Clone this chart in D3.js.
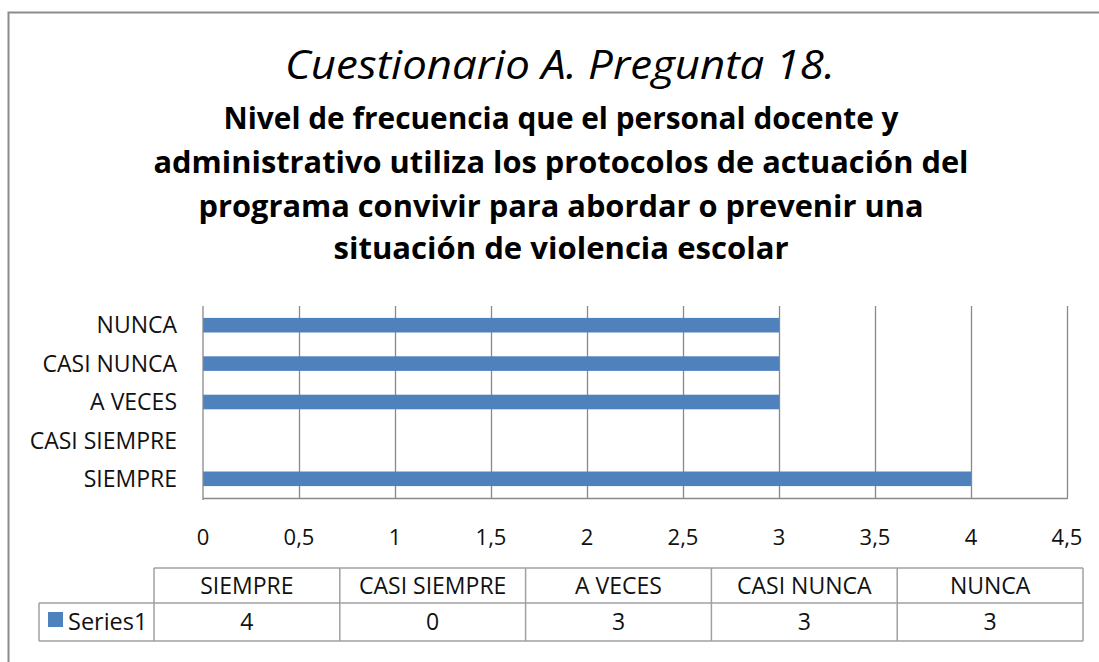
<!DOCTYPE html>
<html>
<head>
<meta charset="utf-8">
<script src="https://cdn.jsdelivr.net/npm/d3@7"></script>
<style>
body { margin: 0; background: #fff; }
svg { display: block; font-family: "Open Sans", Arial, sans-serif; }
</style>
</head>
<body>
<div id="chart"></div>
<script>
// data ------------------------------------------------------------
var categories = ["SIEMPRE", "CASI SIEMPRE", "A VECES", "CASI NUNCA", "NUNCA"];
var values = [4, 0, 3, 3, 3];
var seriesName = "Series1";
var xTicks = [0, 0.5, 1, 1.5, 2, 2.5, 3, 3.5, 4, 4.5];
var titleTop = "Cuestionario A. Pregunta 18.";
var titleLines = [
  "Nivel de frecuencia que el personal docente y",
  "administrativo utiliza los protocolos de actuación del",
  "programa convivir para abordar o prevenir una",
  "situación de violencia escolar"
];
// -----------------------------------------------------------------

var W = 1099, H = 662;
var grid = "#898989", barColor = "#4f81bd";

var svg = d3.select("#chart").append("svg")
  .attr("width", W).attr("height", H);

// chart frame
svg.append("rect")
  .attr("x", 8.5).attr("y", 12.5)
  .attr("width", W + 20).attr("height", H + 20)
  .attr("fill", "#fff").attr("stroke", "#8c8c8c").attr("stroke-width", 2);

// titles
svg.append("text")
  .attr("x", 560).attr("y", 79)
  .attr("text-anchor", "middle")
  .attr("font-style", "italic")
  .attr("font-size", 41)
  .attr("textLength", 550).attr("lengthAdjust", "spacingAndGlyphs")
  .text(titleTop);

var lineWidths = [675, 815, 725, 455];
svg.selectAll("text.sub").data(titleLines).enter().append("text")
  .attr("class", "sub")
  .attr("x", 561)
  .attr("y", function(d, i){ return 129 + i * 44 - (i == 3 ? 2 : 0); })
  .attr("text-anchor", "middle")
  .attr("font-weight", "bold")
  .attr("font-size", 30)
  .attr("textLength", function(d, i){ return lineWidths[i]; })
  .attr("lengthAdjust", "spacingAndGlyphs")
  .text(function(d){ return d; });

// scales
var x = d3.scaleLinear().domain([0, 4.5]).range([203, 1067]);
var y = d3.scaleBand().domain(categories.slice().reverse()).range([306, 498]);
var barH = y.bandwidth() * 0.38;

// gridlines
svg.selectAll("line.grid").data(xTicks.slice(1)).enter().append("line")
  .attr("x1", function(d){ return Math.round(x(d)) + 0.5; })
  .attr("x2", function(d){ return Math.round(x(d)) + 0.5; })
  .attr("y1", 306).attr("y2", 498)
  .attr("stroke", grid).attr("stroke-width", 1.3);

// bars
svg.selectAll("rect.bar").data(categories).enter().append("rect")
  .attr("class", "bar")
  .attr("x", x(0))
  .attr("y", function(d){ return y(d) + y.bandwidth() / 2 - barH / 2; })
  .attr("width", function(d, i){ return x(values[i]) - x(0); })
  .attr("height", barH)
  .attr("fill", barColor);

// axes lines
svg.append("line")
  .attr("x1", x(0)).attr("x2", x(0)).attr("y1", 306).attr("y2", 500)
  .attr("stroke", grid).attr("stroke-width", 1.3);
svg.append("line")
  .attr("x1", x(0)).attr("x2", x(4.5) + 1).attr("y1", 498.5).attr("y2", 498.5)
  .attr("stroke", grid).attr("stroke-width", 1.3);

// category labels
svg.selectAll("text.cat").data(categories).enter().append("text")
  .attr("x", 177)
  .attr("y", function(d){ return y(d) + y.bandwidth() / 2; })
  .attr("dy", "0.36em")
  .attr("text-anchor", "end")
  .attr("font-size", 23)
  .attr("fill", "#111")
  .text(function(d){ return d; });

// x tick labels
svg.selectAll("text.tick").data(xTicks).enter().append("text")
  .attr("x", function(d){ return x(d); })
  .attr("y", 537)
  .attr("dy", "0.36em")
  .attr("text-anchor", "middle")
  .attr("font-size", 22)
  .attr("fill", "#111")
  .text(function(d){ return String(d).replace(".", ","); });

// data table
var col = d3.scaleBand().domain(categories).range([154, 1083]);
var tTop = 568, tMid = 603, tBot = 641, tLeft = 39;
var tbl = svg.append("g").attr("stroke", "#a0a0a0").attr("stroke-width", 1.5);
tbl.append("line").attr("x1", 154).attr("x2", 1083).attr("y1", tTop).attr("y2", tTop);
tbl.append("line").attr("x1", tLeft).attr("x2", 1083).attr("y1", tMid).attr("y2", tMid);
tbl.append("line").attr("x1", tLeft).attr("x2", 1083).attr("y1", tBot).attr("y2", tBot);
tbl.append("line").attr("x1", tLeft).attr("x2", tLeft).attr("y1", tMid).attr("y2", tBot);
tbl.selectAll("line.v").data(categories).enter().append("line")
  .attr("x1", function(d){ return col(d); })
  .attr("x2", function(d){ return col(d); })
  .attr("y1", tTop).attr("y2", tBot);
tbl.append("line").attr("x1", 1083).attr("x2", 1083).attr("y1", tTop).attr("y2", tBot);

svg.selectAll("text.head").data(categories).enter().append("text")
  .attr("x", function(d){ return col(d) + col.bandwidth() / 2; })
  .attr("y", (tTop + tMid) / 2)
  .attr("dy", "0.36em")
  .attr("text-anchor", "middle")
  .attr("font-size", 23)
  .attr("fill", "#111")
  .text(function(d){ return d; });

svg.selectAll("text.val").data(values).enter().append("text")
  .attr("x", function(d, i){ return col(categories[i]) + col.bandwidth() / 2; })
  .attr("y", (tMid + tBot) / 2)
  .attr("dy", "0.36em")
  .attr("text-anchor", "middle")
  .attr("font-size", 23)
  .attr("fill", "#111")
  .text(function(d){ return d; });

// legend key
svg.append("rect")
  .attr("x", 48).attr("y", 612).attr("width", 15).attr("height", 15)
  .attr("fill", barColor);
svg.append("text")
  .attr("x", 68).attr("y", (tMid + tBot) / 2)
  .attr("dy", "0.36em")
  .attr("font-size", 23.5)
  .attr("fill", "#111")
  .text(seriesName);
</script>
</body>
</html>
